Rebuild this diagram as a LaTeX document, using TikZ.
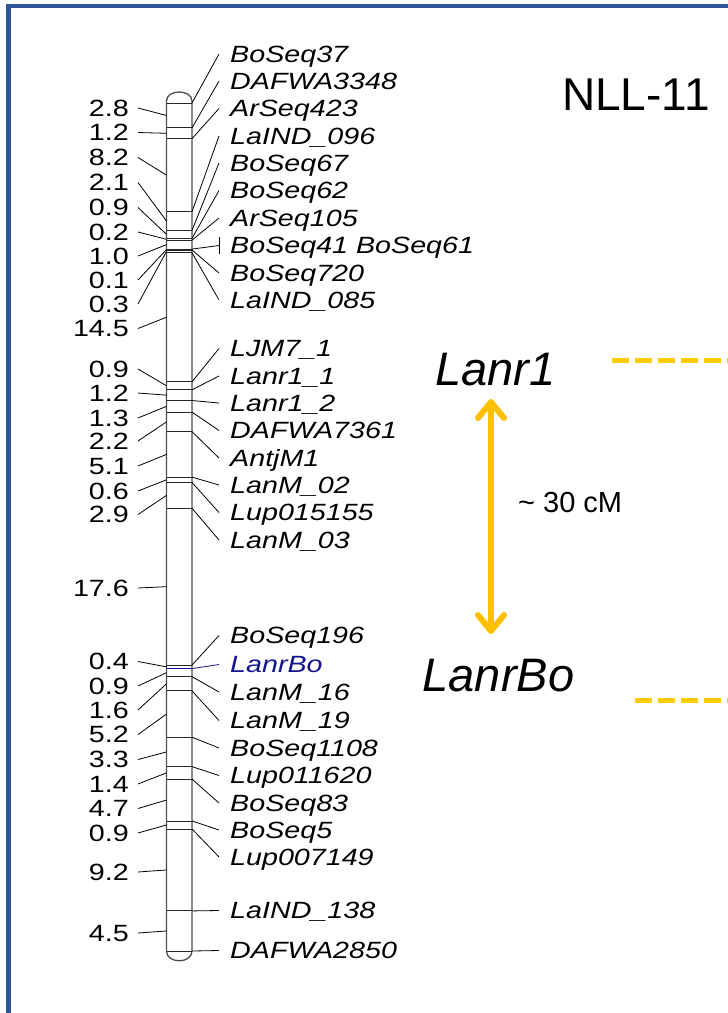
\documentclass[tikz,border=0pt]{standalone}
\usepackage{fontspec}
\setmainfont{Liberation Sans}
\newfontfamily\mapfont[FakeStretch=1.22]{Liberation Sans}
\usepackage{tikz}
\usetikzlibrary{calc,arrows.meta}
\definecolor{frameblue}{RGB}{47,85,151}
\definecolor{goldarrow}{RGB}{255,192,0}
\definecolor{golddash}{RGB}{255,204,0}
\definecolor{lociblue}{RGB}{20,20,140}
\tikzset{
	locname/.style={anchor=west, inner xsep=11pt, inner ysep=0pt, text height=16.5pt, text depth=0pt, font=\mapfont\itshape\fontsize{23.5}{23.5}\selectfont},
	gapname/.style={anchor=east, inner xsep=9pt, inner ysep=0pt, text height=16.5pt, text depth=0pt, font=\mapfont\fontsize{23.5}{23.5}\selectfont},
	bigname/.style={anchor=base west, inner sep=0pt, font=\itshape\fontsize{47}{47}\selectfont},
	link/.style={line width=0.8pt, color=black},
	band/.style={line width=0.9pt, color=black!85},
	chrom/.style={line width=1.3pt, color=black!70},
}
\def\locus[#1](#2:#3:#4)#5{%
	\coordinate (#2) at (192, {103+8.9076*#3});
	\draw[band, #1] (166.5, {103+8.9076*#3}) -- (#2);
	\node[locname, #1] (#2t) at (219, #4) {#5};
	\draw[link, #1] (#2) -- (#2t.west);
}
\def\gapcm(#1:#2:#3)#4{%
	\coordinate (#1c) at (166.5, {103+8.9076*#2});
	\node[gapname] (#1) at (138, #3) {#4};
	\draw[link] (#1.east) -- (#1c);
}

\begin{document}
\begin{tikzpicture}[x=1pt, y=-1pt]
			%%%%% START %%%%%
			\useasboundingbox (0, 0) rectangle (728, 1013);
			
			\draw[line width=4.5pt, color=frameblue] (8.5, 1030) -- (8.5, 6) -- (740, 6);
			
			\node[anchor=base west, inner sep=0pt, font=\fontsize{46}{46}\selectfont] (title) at (562, 110) {NLL-11};
			
			% chromosome
			\draw[chrom] (166.5, 951) -- (166.5, 101) .. controls (166.5, 89) and (192, 89) .. (192, 101) -- (192, 951) .. controls (192, 964) and (166.5, 964) .. cycle;
			
			% loci on the right
			\locus[](bsa:0:54){BoSeq37}
			\locus[](dwa:2.8:81){DAFWA3348}
			\locus[](asa:4.0:108.5){ArSeq423}
			\locus[](lia:12.2:136){LaIND\_096}
			\locus[](bsb:14.3:163){BoSeq67}
			\locus[](bsc:15.2:190.5){BoSeq62}
			\locus[](asb:15.4:218){ArSeq105}
			\locus[](bsd:16.4:245.5){BoSeq41 BoSeq61}
			\draw[link] ([yshift=8.5pt]bsdt.west) -- ([yshift=-8.5pt]bsdt.west);
			\locus[](bse:16.5:273){BoSeq720}
			\locus[](lib:16.8:300){LaIND\_085}
			
			\locus[](ljm:31.3:348.5){LJM7\_1}
			\locus[](lra:32.2:376){Lanr1\_1}
			\locus[](lrb:33.4:403){Lanr1\_2}
			\locus[](dwb:34.7:430.5){DAFWA7361}
			\locus[](atj:36.9:458){AntjM1}
			\locus[](lma:42.0:485){LanM\_02}
			\locus[](lpa:42.6:512.5){Lup015155}
			\locus[](lmb:45.5:540){LanM\_03}
			
			\locus[](bsf:63.1:635.5){BoSeq196}
			\locus[lociblue](lbo:63.5:664.5){LanrBo}
			\locus[](lmc:64.4:692){LanM\_16}
			\locus[](lmd:66.0:720.5){LanM\_19}
			\locus[](bsg:71.2:748){BoSeq1108}
			\locus[](lpb:74.5:775.5){Lup011620}
			\locus[](bsh:75.9:803){BoSeq83}
			\locus[](bsi:80.6:830){BoSeq5}
			\locus[](lpc:81.5:857){Lup007149}
			\locus[](lic:90.7:910.5){LaIND\_138}
			\locus[](dwc:95.2:950.5){DAFWA2850}
			
			% distances on the left
			\gapcm(ga:1.4:108){2.8}
			\gapcm(gb:3.4:132.5){1.2}
			\gapcm(gc:8.1:157.5){8.2}
			\gapcm(gd:13.25:182.5){2.1}
			\gapcm(ge:14.75:207.5){0.9}
			\gapcm(gf:15.3:232){0.2}
			\gapcm(gg:15.9:256){1.0}
			\gapcm(gh:16.45:280){0.1}
			\gapcm(gi:16.65:304){0.3}
			\gapcm(gj:24.05:328.5){14.5}
			\gapcm(gk:31.75:369){0.9}
			\gapcm(gl:32.8:393){1.2}
			\gapcm(gm:34.05:418){1.3}
			\gapcm(gn:35.8:441){2.2}
			\gapcm(go:39.45:466){5.1}
			\gapcm(gp:42.3:491){0.6}
			\gapcm(gq:44.05:514.5){2.9}
			\gapcm(gr:54.3:588){17.6}
			\gapcm(gs:63.3:661.5){0.4}
			\gapcm(gt:63.95:686){0.9}
			\gapcm(gu:65.2:710){1.6}
			\gapcm(gv:68.6:734.5){5.2}
			\gapcm(gw:72.85:759.5){3.3}
			\gapcm(gx:75.2:784){1.4}
			\gapcm(gy:78.25:808.5){4.7}
			\gapcm(gz:81.05:833){0.9}
			\gapcm(gza:86.1:872){9.2}
			\gapcm(gzb:92.95:933){4.5}
			
			% genes and distance
			\node[bigname] (lanr) at (435, 385) {Lanr1};
			\node[bigname] (lanrbo) at (422.5, 691.5) {LanrBo};
			\coordinate (up) at (491, 399);
			\coordinate (dn) at (491, 634);
			\draw[line width=6pt, color=goldarrow, line cap=round, {Straight Barb[length=16pt, width=26pt, round]}-{Straight Barb[length=16pt, width=26pt, round]}] (up) -- (dn);
			\node[anchor=base west, inner sep=0pt, font=\fontsize{29}{29}\selectfont] (dist) at (518, 512.5) {\textasciitilde{} 30 cM};
			
			\coordinate (lanrend) at (612, 360.3);
			\coordinate (lanrboend) at (635, 700.3);
			\draw[line width=5pt, color=golddash, dash pattern=on 17.3pt off 5.7pt] (lanrend) -- ++(130, 0);
			\draw[line width=5pt, color=golddash, dash pattern=on 17.3pt off 5.7pt] (lanrboend) -- ++(130, 0);
			
			%%%%% END %%%%%
\end{tikzpicture}
\end{document}
